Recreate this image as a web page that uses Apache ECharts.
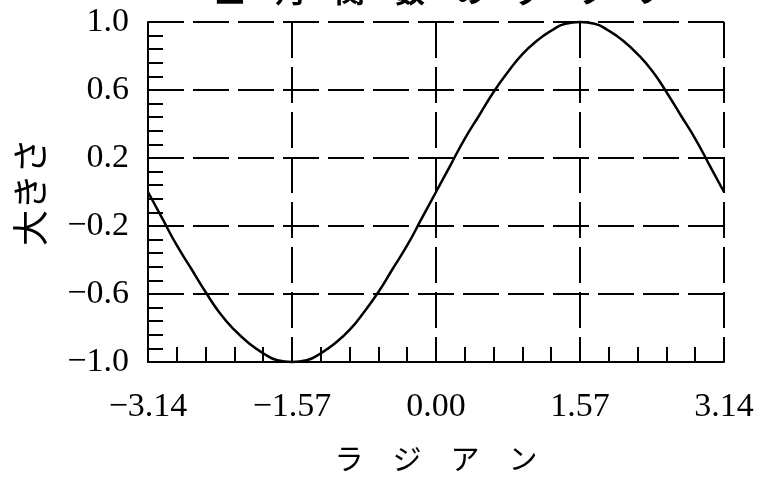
<!DOCTYPE html>
<html><head><meta charset="utf-8">
<script src="https://cdn.jsdelivr.net/npm/echarts@6/dist/echarts.min.js"></script>
<style>html,body{margin:0;padding:0;background:#fff}#c{width:762px;height:479px}</style>
</head><body><div id="c"></div>
<script>
const titleText = '三　角　関　数　の　グ　ラ　フ';
const xName = 'ラ　ジ　ア　ン';
const yName = '大きさ';
const xValues = [-3.14,-2.98,-2.83,-2.67,-2.51,-2.36,-2.20,-2.04,-1.88,-1.73,-1.57,-1.41,-1.26,-1.10,-0.94,-0.79,-0.63,-0.47,-0.31,-0.16,0.00,0.16,0.31,0.47,0.63,0.79,0.94,1.10,1.26,1.41,1.57,1.73,1.88,2.04,2.20,2.36,2.51,2.67,2.83,2.98,3.14];
const yValues = [0.00,-0.16,-0.31,-0.45,-0.59,-0.71,-0.81,-0.89,-0.95,-0.99,-1.00,-0.99,-0.95,-0.89,-0.81,-0.71,-0.59,-0.45,-0.31,-0.16,0.00,0.16,0.31,0.45,0.59,0.71,0.81,0.89,0.95,0.99,1.00,0.99,0.95,0.89,0.81,0.71,0.59,0.45,0.31,0.16,0.00];
const xTickLabels = ['−3.14','−1.57','0.00','1.57','3.14'];
const yTickLabels = ['−1.0','−0.6','−0.2','0.2','0.6','1.0'];
const xMin = -3.14, xMax = 3.14, xInterval = 1.57;
const yMin = -1.0, yMax = 1.0, yInterval = 0.4;

const chart = echarts.init(document.getElementById('c'), null, {renderer: 'canvas'});
const numFont = '"Liberation Serif", serif';
const cjkFont = '"Noto Sans CJK JP", sans-serif';
const dash = [36, 9];
chart.setOption({
  animation: false,
  backgroundColor: '#fff',
  grid: {left: 148, right: 38, top: 22, bottom: 117, containLabel: false},
  graphic: [{
    type: 'text', x: 440, y: 6,
    style: {text: titleText, fontFamily: cjkFont, fontSize: 30, fontWeight: 'bold', fill: '#000', textAlign: 'center', textVerticalAlign: 'bottom'}
  }],
  xAxis: {
    type: 'value', min: xMin, max: xMax, interval: xInterval,
    name: xName, nameLocation: 'middle', nameGap: 82,
    nameTextStyle: {fontFamily: cjkFont, fontSize: 29, color: '#000'},
    axisLine: {show: true, onZero: false, lineStyle: {color: '#000', width: 2}},
    axisTick: {show: true, inside: true, length: 15, lineStyle: {color: '#000', width: 2}},
    minorTick: {show: true, splitNumber: 5, length: 15, lineStyle: {color: '#000', width: 2}},
    axisLabel: {
      margin: 28, fontFamily: numFont, fontSize: 34, color: '#000',
      formatter: v => xTickLabels[Math.round((v - xMin) / xInterval)]
    },
    splitLine: {show: true, lineStyle: {color: '#000', width: 2, type: dash}}
  },
  yAxis: {
    type: 'value', min: yMin, max: yMax, interval: yInterval,
    name: yName, nameLocation: 'middle', nameGap: 100, nameRotate: 90,
    nameTextStyle: {fontFamily: cjkFont, fontSize: 36, color: '#000'},
    axisLine: {show: true, onZero: false, lineStyle: {color: '#000', width: 2}},
    axisTick: {show: true, inside: true, length: 15, lineStyle: {color: '#000', width: 2}},
    minorTick: {show: true, splitNumber: 5, length: 15, lineStyle: {color: '#000', width: 2}},
    axisLabel: {
      margin: 19, fontFamily: numFont, fontSize: 34, color: '#000',
      formatter: v => yTickLabels[Math.round((v - yMin) / yInterval)]
    },
    splitLine: {show: true, lineStyle: {color: '#000', width: 2, type: dash}}
  },
  series: [{
    type: 'line', data: xValues.map((x, i) => [x, yValues[i]]),
    showSymbol: false, smooth: true, clip: false,
    lineStyle: {color: '#000', width: 2.5}
  }]
});
</script></body></html>
